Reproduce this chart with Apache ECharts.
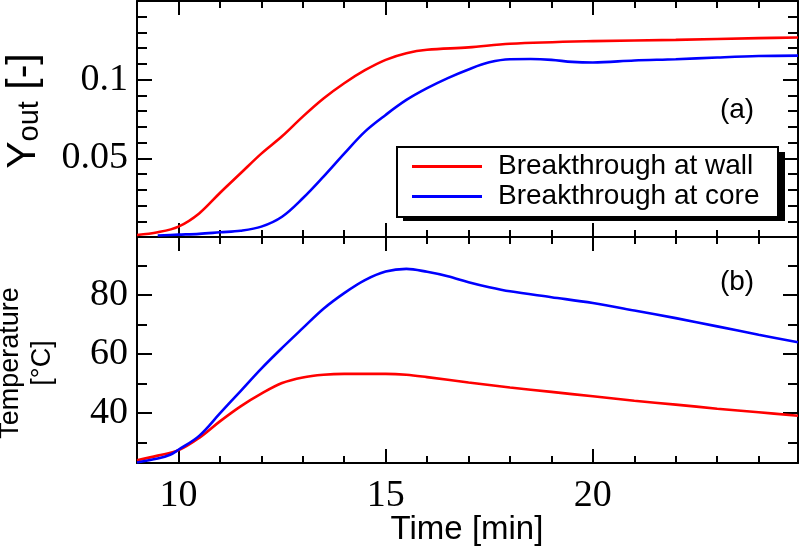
<!DOCTYPE html>
<html><head><meta charset="utf-8">
<script src="https://cdn.jsdelivr.net/npm/echarts@6/dist/echarts.min.js"></script>
<style>html,body{margin:0;padding:0;background:#fff}#c{width:800px;height:555px}</style>
</head><body><div id="c"></div>
<script>
// ---- data ----
const timeWallY = [9, 9.5, 10, 10.5, 11, 11.5, 12, 12.5, 13, 13.5, 14, 14.5, 15, 15.5, 16, 17, 18, 20, 22, 24, 24.95];
const yWall     = [0.0013, 0.003, 0.0066, 0.015, 0.028, 0.0405, 0.053, 0.064, 0.0765, 0.088, 0.0977, 0.106, 0.1126, 0.1168, 0.119, 0.1205, 0.1228, 0.1245, 0.1253, 0.1264, 0.1268];
const timeCoreY = [9.5, 10, 10.5, 11, 11.5, 12, 12.5, 13, 13.5, 14, 14.5, 15, 15.5, 16, 16.5, 17, 17.5, 18, 18.5, 19, 19.5, 20, 21, 22, 23, 24, 24.95];
const yCore     = [0.001, 0.0015, 0.002, 0.003, 0.004, 0.0066, 0.0129, 0.0246, 0.0384, 0.053, 0.067, 0.0776, 0.0871, 0.0946, 0.101, 0.1065, 0.111, 0.113, 0.1131, 0.1126, 0.1113, 0.1109, 0.1122, 0.113, 0.1141, 0.115, 0.1153];
const timeWallT = [9, 9.5, 10, 10.5, 11, 11.5, 12, 12.5, 13, 13.5, 14, 15, 15.5, 16, 17, 18, 19, 20, 21, 22, 23, 24, 24.95];
const tempWall  = [23.9, 25.5, 27.3, 31.5, 37.1, 42.2, 46.5, 50.1, 52.0, 52.9, 53.2, 53.2, 52.9, 52.1, 50.3, 48.6, 47.1, 45.6, 44.1, 42.8, 41.4, 40.2, 39.0];
const timeCoreT = [9, 9.5, 9.8, 10, 10.5, 11, 11.5, 12, 12.5, 13, 13.5, 14, 14.5, 15, 15.5, 16, 16.5, 17, 17.5, 18, 19, 20, 21, 22, 23, 24, 24.95];
const tempCore  = [23.2, 24.5, 25.8, 27.5, 32.2, 39.8, 47.4, 55.0, 62.0, 68.7, 75.3, 80.6, 85.0, 87.9, 88.8, 87.8, 86.3, 84.3, 82.6, 81.2, 79.2, 77.2, 74.7, 72.1, 69.3, 66.5, 63.9];

const xMajorTicks = [10, 15, 20];
const xMinorTicks = [10, 11, 12, 13, 14, 15, 16, 17, 18, 19, 20, 21, 22, 23, 24];
const xTickLabels = [10, 15, 20];
const yTopMajorTicks = [0, 0.05, 0.1, 0.15];
const yTopMinorTicks = [0.01, 0.02, 0.03, 0.04, 0.06, 0.07, 0.08, 0.09, 0.11, 0.12, 0.13, 0.14];
const yTopLabels = [0.05, 0.1];
const yBotMajorTicks = [40, 60, 80];
const yBotMinorTicks = [30, 50, 70, 90];
const yBotLabels = [40, 60, 80];

const seriesNames = ['Breakthrough at wall', 'Breakthrough at core'];
const panelTags = ['(a)', '(b)'];

// ---- layout ----
const X_MIN = 9, X_MAX = 24.95;
const SERIF = 'Liberation Serif';
const SANS = 'Liberation Sans';
const zip = (a, b) => a.map((v, i) => [v, b[i]]);

function mkX(grid, pos, ticks, len, line, labels) {
  return {
    type: 'value', gridIndex: grid, position: pos, min: X_MIN, max: X_MAX,
    axisLine: { show: line, onZero: false, lineStyle: { color: '#000', width: 2 } },
    axisTick: { show: true, inside: true, length: len, customValues: ticks, lineStyle: { color: '#000', width: 2 } },
    axisLabel: labels ? { show: true, customValues: labels, margin: 14, fontFamily: SERIF, fontSize: 38, color: '#000' } : { show: false },
    splitLine: { show: false }
  };
}
function mkY(grid, pos, min, max, ticks, len, line, labels) {
  return {
    type: 'value', gridIndex: grid, position: pos, min: min, max: max,
    axisLine: { show: line, onZero: false, lineStyle: { color: '#000', width: 2 } },
    axisTick: { show: true, inside: true, length: len, customValues: ticks, lineStyle: { color: '#000', width: 2 } },
    axisLabel: labels ? { show: true, customValues: labels, margin: 9, fontFamily: SERIF, fontSize: 38, color: '#000' } : { show: false },
    splitLine: { show: false }
  };
}

const xAxes = [
  mkX(0, 'bottom', xMajorTicks, 14, true, null),
  mkX(0, 'bottom', xMinorTicks, 7, false, null),
  mkX(0, 'top', xMajorTicks, 14, true, null),
  mkX(0, 'top', xMinorTicks, 7, false, null),
  mkX(1, 'bottom', xMajorTicks, 14, true, xTickLabels),
  mkX(1, 'bottom', xMinorTicks, 7, false, null),
  mkX(1, 'top', xMajorTicks, 14, true, null),
  mkX(1, 'top', xMinorTicks, 7, false, null)
];
const Y0MIN = 0, Y0MAX = 0.15, Y1MIN = 23, Y1MAX = 99.6;
const yAxes = [
  mkY(0, 'left', Y0MIN, Y0MAX, yTopMajorTicks, 15, true, yTopLabels),
  mkY(0, 'left', Y0MIN, Y0MAX, yTopMinorTicks, 10, false, null),
  mkY(0, 'right', Y0MIN, Y0MAX, yTopMajorTicks, 15, true, null),
  mkY(0, 'right', Y0MIN, Y0MAX, yTopMinorTicks, 10, false, null),
  mkY(1, 'left', Y1MIN, Y1MAX, yBotMajorTicks, 15, true, yBotLabels),
  mkY(1, 'left', Y1MIN, Y1MAX, yBotMinorTicks, 10, false, null),
  mkY(1, 'right', Y1MIN, Y1MAX, yBotMajorTicks, 15, true, null),
  mkY(1, 'right', Y1MIN, Y1MAX, yBotMinorTicks, 10, false, null)
];

function line(name, xi, yi, data, color) {
  return {
    type: 'line', name: name, xAxisIndex: xi, yAxisIndex: yi, data: data,
    smooth: 0.35, symbol: 'none', showSymbol: false,
    lineStyle: { color: color, width: 2.6 }, itemStyle: { color: color },
    z: 2, silent: true
  };
}

const option = {
  animation: false,
  backgroundColor: '#fff',
  grid: [
    { left: 137, top: 1, width: 661, height: 236 },
    { left: 137, top: 237, width: 661, height: 226 }
  ],
  xAxis: xAxes,
  yAxis: yAxes,
  legend: {
    data: seriesNames,
    left: 397, top: 148, orient: 'vertical', z: 4,
    icon: 'rect',
    itemWidth: 70, itemHeight: 3, itemGap: 1,
    padding: [4, 20, 6, 15],
    backgroundColor: 'transparent', borderWidth: 0,
    textStyle: { fontFamily: SANS, fontSize: 28, lineHeight: 29, color: '#000', padding: [0, 0, 0, 11] },
    selectedMode: false
  },
  series: [
    line(seriesNames[0], 0, 0, zip(timeWallY, yWall), '#ff0000'),
    line(seriesNames[1], 0, 0, zip(timeCoreY, yCore), '#0000ff'),
    line(seriesNames[0], 4, 4, zip(timeWallT, tempWall), '#ff0000'),
    line(seriesNames[1], 4, 4, zip(timeCoreT, tempCore), '#0000ff')
  ],
  graphic: [
    { type: 'rect', z: 3, silent: true, shape: { x: 403, y: 152, width: 382, height: 69 }, style: { fill: '#000' } },
    { type: 'rect', z: 3, silent: true, shape: { x: 397, y: 147, width: 381, height: 70 }, style: { fill: '#fff', stroke: '#000', lineWidth: 2 } },
    { type: 'text', x: 21, y: 111, rotation: Math.PI / 2,
      style: { text: '{a|Y}{b|out}{a| [-]}', fill: '#000',
        align: 'center', verticalAlign: 'middle', textAlign: 'center', textVerticalAlign: 'middle',
        rich: { a: { fontFamily: SANS, fontSize: 41, lineHeight: 46, verticalAlign: 'bottom', fill: '#000' },
                b: { fontFamily: SANS, fontSize: 29, lineHeight: 46, verticalAlign: 'bottom', fill: '#000' } } } },
    { type: 'text', x: 27, y: 363, rotation: Math.PI / 2,
      style: { text: 'Temperature\n[°C]', fill: '#000', font: '27px "Liberation Sans"', lineHeight: 32,
        align: 'center', verticalAlign: 'middle', textAlign: 'center', textVerticalAlign: 'middle' } },
    { type: 'text', x: 467, y: 530,
      style: { text: 'Time [min]', fill: '#000', font: '33px "Liberation Sans"',
        align: 'center', verticalAlign: 'middle', textAlign: 'center', textVerticalAlign: 'middle' } },
    { type: 'text', x: 737, y: 110,
      style: { text: panelTags[0], fill: '#000', font: '28px "Liberation Sans"',
        align: 'center', verticalAlign: 'middle', textAlign: 'center', textVerticalAlign: 'middle' } },
    { type: 'text', x: 737, y: 282,
      style: { text: panelTags[1], fill: '#000', font: '28px "Liberation Sans"',
        align: 'center', verticalAlign: 'middle', textAlign: 'center', textVerticalAlign: 'middle' } }
  ]
};
const chart = echarts.init(document.getElementById('c'), null, { renderer: 'canvas' });
chart.setOption(option);
</script></body></html>
